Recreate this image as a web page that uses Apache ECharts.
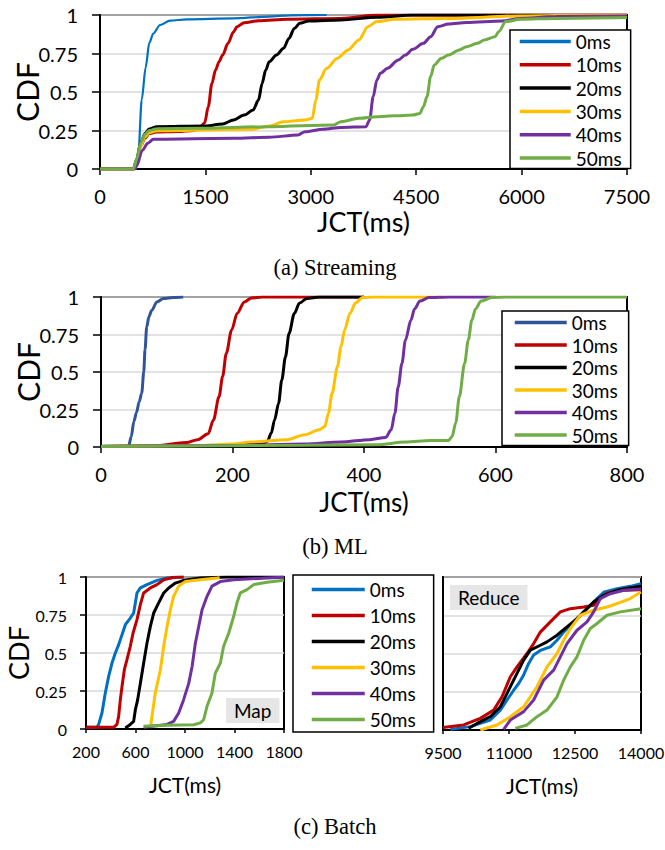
<!DOCTYPE html>
<html><head><meta charset="utf-8">
<script src="https://cdn.jsdelivr.net/npm/echarts@6/dist/echarts.min.js"></script>
<style>html,body{margin:0;padding:0;background:#fff}#c{width:665px;height:850px}</style>
</head><body><div id="c"></div>
<script>
const seriesNames = ['0ms','10ms','20ms','30ms','40ms','50ms'];
const colorsMain = ['#0070C0','#C00000','#000000','#FFC000','#7030A0','#70AD47'];
const colorsML = ['#2F5597','#C00000','#000000','#FFC000','#7030A0','#70AD47'];

const yTicks = [0,0.25,0.5,0.75,1];
const streamTicks = [0,1500,3000,4500,6000,7500];
const mlTicks = [0,200,400,600,800];
const mapTicks = [200,600,1000,1400,1800];
const reduceTicks = [9500,11000,12500,14000];

// (a) Streaming
const stream0 = [[0,0],[490,0],[546,0.10],[594,0.45],[650,0.66],[702,0.82],[759,0.88],[854,0.935],[997,0.963],[1234,0.972],[1900,0.978],[2400,0.99],[2700,0.998],[3225,1]];
const stream10 = [[0,0],[480,0],[520,0.05],[580,0.15],[640,0.2],[700,0.23],[800,0.24],[1100,0.243],[1340,0.25],[1440,0.28],[1490,0.3],[1541,0.405],[1593,0.556],[1644,0.643],[1695,0.697],[1745,0.74],[1822,0.816],[1899,0.89],[1950,0.924],[2052,0.95],[2256,0.963],[2664,0.972],[3429,0.978],[3940,1],[7500,1]];
const stream20 = [[0,0],[475,0],[520,0.06],[580,0.17],[640,0.23],[700,0.26],[807,0.275],[1500,0.279],[1745,0.292],[1899,0.318],[2052,0.35],[2179,0.383],[2256,0.448],[2307,0.556],[2358,0.643],[2409,0.697],[2511,0.74],[2613,0.784],[2689,0.848],[2766,0.913],[2843,0.946],[2970,0.961],[3429,0.968],[3940,0.985],[4450,1],[7500,1]];
const stream30 = [[0,0],[475,0],[520,0.05],[580,0.15],[640,0.21],[700,0.235],[807,0.249],[2154,0.258],[2409,0.279],[2613,0.307],[2919,0.318],[3021,0.329],[3072,0.448],[3123,0.578],[3225,0.654],[3378,0.719],[3531,0.773],[3684,0.838],[3812,0.924],[3940,0.957],[4195,0.972],[4960,0.978],[5980,0.994],[7000,1],[7500,1]];
const stream40 = [[0,0],[500,0],[522,0.02],[600,0.12],[680,0.167],[759,0.193],[1899,0.199],[2409,0.206],[2817,0.221],[2919,0.242],[3174,0.258],[3429,0.27],[3786,0.275],[3837,0.318],[3888,0.47],[3940,0.578],[3990,0.621],[4092,0.654],[4245,0.708],[4347,0.74],[4450,0.777],[4603,0.816],[4705,0.859],[4807,0.924],[4960,0.942],[5215,0.952],[5725,0.961],[5980,0.978],[6490,0.99],[7500,0.994]];
const stream50 = [[0,0],[475,0],[520,0.06],[580,0.17],[640,0.225],[700,0.25],[807,0.262],[1388,0.264],[2409,0.275],[3327,0.286],[3429,0.307],[3684,0.329],[3940,0.34],[4195,0.346],[4450,0.35],[4552,0.361],[4603,0.405],[4654,0.47],[4705,0.6],[4756,0.675],[4858,0.719],[4960,0.74],[5113,0.773],[5215,0.794],[5368,0.816],[5470,0.838],[5623,0.859],[5674,0.892],[5776,0.957],[5980,0.972],[6490,0.978],[7500,0.983]];

// (b) ML
const ml0 = [[0,0.005],[42,0.005],[46,0.07],[50,0.17],[54,0.23],[58,0.3],[62,0.36],[65,0.5],[67,0.65],[69.5,0.8],[73,0.87],[77,0.91],[85,0.967],[95,0.99],[110,0.997],[125,1]];
const ml10 = [[0,0.003],[80,0.006],[130,0.03],[147,0.049],[163,0.088],[171,0.18],[179.6,0.336],[185,0.47],[190.5,0.624],[198.7,0.78],[207,0.89],[218,0.967],[228.7,0.993],[245,1],[400,1]];
const ml20 = [[0,0.003],[150,0.008],[245,0.02],[253,0.038],[259,0.093],[264,0.18],[270,0.29],[275,0.447],[280.5,0.6],[286,0.757],[294,0.89],[302,0.96],[313,0.99],[332,1],[400,1]];
const ml30 = [[0,0.003],[150,0.01],[201,0.02],[229,0.033],[283,0.049],[310,0.082],[332,0.115],[340.5,0.137],[346,0.226],[351.4,0.358],[359.6,0.535],[365,0.668],[370.5,0.78],[378.6,0.89],[387,0.96],[398,0.996],[414,1],[520,1]];
const ml40 = [[0,0.003],[200,0.01],[310,0.02],[365,0.033],[409,0.049],[433,0.064],[441.4,0.115],[447,0.226],[452,0.4],[457.7,0.557],[463,0.712],[471.3,0.845],[476.8,0.92],[485,0.973],[498.6,0.996],[528.6,1],[600,1]];
const ml50 = [[0,0.004],[310,0.011],[419.5,0.015],[463,0.033],[501.3,0.044],[528.6,0.044],[534,0.07],[539.5,0.16],[545,0.336],[553,0.557],[558.6,0.712],[564,0.845],[569.5,0.92],[578,0.973],[594,0.996],[616,1],[800,1]];

// (c) Batch - Map
const map0 = [[200,0.011],[289,0.011],[302,0.03],[329,0.105],[356,0.237],[383,0.346],[410,0.434],[437,0.5],[464,0.555],[491,0.62],[518,0.686],[558,0.73],[585,0.763],[599,0.83],[612,0.895],[639,0.928],[693,0.95],[774,0.978],[855,0.993],[989,1]];
const map10 = [[200,0.011],[424,0.011],[450,0.03],[464,0.083],[477,0.19],[491,0.28],[510,0.39],[531,0.456],[558,0.544],[580,0.63],[612,0.72],[639,0.818],[666,0.895],[720,0.928],[774,0.95],[828,0.982],[908,0.998],[989,1]];
const map20 = [[518,0.007],[558,0.03],[585,0.05],[599,0.127],[617,0.19],[639,0.3],[666,0.434],[693,0.566],[720,0.675],[747,0.763],[787,0.83],[828,0.895],[868,0.928],[922,0.96],[989,0.978],[1124,0.993],[1339,1],[1800,1]];
const map30 = [[720,0.007],[733,0.083],[760,0.237],[801,0.39],[828,0.544],[855,0.675],[882,0.785],[908,0.873],[949,0.94],[1003,0.97],[1124,0.982],[1259,0.993],[1280,0.995]];
const map40 = [[666,0.011],[855,0.03],[908,0.05],[949,0.105],[989,0.193],[1030,0.3],[1057,0.41],[1084,0.566],[1111,0.675],[1138,0.785],[1178,0.873],[1218,0.94],[1286,0.97],[1393,0.982],[1663,0.993],[1800,0.998]];
const map50 = [[666,0.018],[855,0.024],[1070,0.028],[1124,0.04],[1151,0.061],[1178,0.149],[1218,0.237],[1245,0.368],[1286,0.434],[1312,0.544],[1353,0.63],[1393,0.74],[1420,0.83],[1447,0.895],[1501,0.917],[1555,0.95],[1663,0.965],[1800,0.978]];

// (c) Batch - Reduce
const reduce0 = [[9667,0.004],[10121,0.022],[10576,0.065],[10803,0.13],[10955,0.196],[11106,0.26],[11220,0.304],[11333,0.36],[11447,0.435],[11561,0.49],[11712,0.52],[11939,0.543],[12091,0.587],[12242,0.64],[12394,0.685],[12545,0.728],[12697,0.772],[12924,0.837],[13152,0.9],[13455,0.924],[13758,0.939],[14000,0.957]];
const reduce10 = [[9500,0.017],[9970,0.033],[10348,0.076],[10652,0.13],[10841,0.217],[11030,0.348],[11182,0.413],[11409,0.5],[11561,0.565],[11712,0.64],[11939,0.707],[12167,0.772],[12394,0.793],[12697,0.804],[12924,0.815],[13076,0.859],[13227,0.896],[13606,0.913],[14000,0.917]];
const reduce20 = [[10083,0.011],[10273,0.043],[10576,0.087],[10803,0.152],[10955,0.239],[11182,0.37],[11333,0.457],[11485,0.522],[11712,0.554],[11864,0.576],[12091,0.62],[12318,0.674],[12545,0.728],[12773,0.793],[12924,0.837],[13152,0.88],[13455,0.913],[13758,0.93],[14000,0.939]];
const reduce30 = [[10348,0],[10727,0.033],[11030,0.087],[11333,0.152],[11485,0.217],[11636,0.283],[11864,0.413],[12091,0.5],[12242,0.587],[12394,0.663],[12621,0.75],[12924,0.783],[13227,0.804],[13455,0.826],[13758,0.859],[14000,0.902]];
const reduce40 = [[10879,0.004],[11030,0.065],[11333,0.12],[11561,0.196],[11788,0.326],[12015,0.391],[12167,0.478],[12318,0.565],[12545,0.652],[12773,0.707],[12924,0.772],[13076,0.859],[13303,0.891],[13606,0.913],[14000,0.922]];
const reduce50 = [[11144,0.011],[11409,0.033],[11636,0.087],[11864,0.13],[12091,0.217],[12242,0.326],[12394,0.413],[12545,0.478],[12697,0.587],[12848,0.663],[13000,0.696],[13227,0.75],[13530,0.772],[14000,0.793]];

const panelData = [
  [stream0, stream10, stream20, stream30, stream40, stream50],
  [ml0, ml10, ml20, ml30, ml40, ml50],
  [map0, map10, map20, map30, map40, map50],
  [reduce0, reduce10, reduce20, reduce30, reduce40, reduce50]
];
const panelColors = [colorsMain, colorsML, colorsMain, colorsMain];
const panelWidths = [[2.2,3,3,3,3,3],[3,3,3,3,3,3],[3,3,3,3,3,3],[3,3,3,3,3,3]];
const panelSmooth = [0.3, 0.3, false, false];

const FONT = 'Lato';
const chart = echarts.init(document.getElementById('c'), null, {renderer: 'svg'});
const plain = v => String(v);

function xAxisCfg(gi, ticks, labelSize, nameSize, nameGap, labelMargin, tickLen, custom) {
  const a = {
    type: 'value', gridIndex: gi, min: ticks[0], max: ticks[ticks.length - 1],
    name: 'JCT(ms)', nameLocation: 'middle', nameGap: nameGap, nameMoveOverlap: false,
    nameTextStyle: {fontFamily: FONT, fontSize: nameSize, color: '#000'},
    axisLine: {show: true, onZero: false, lineStyle: {color: '#000', width: 2}},
    axisTick: {show: true, inside: false, length: tickLen, lineStyle: {color: '#000', width: 1.5}},
    axisLabel: {fontFamily: FONT, fontSize: labelSize, color: '#000', margin: labelMargin, formatter: plain, hideOverlap: false},
    splitLine: {show: false}
  };
  if (custom) {
    a.axisLabel.customValues = ticks;
    a.axisTick.customValues = ticks;
  } else {
    a.interval = ticks[1] - ticks[0];
  }
  return a;
}
function yAxisCfg(gi, showLabels, labelSize, nameSize, nameGap, labelMargin, tickLen) {
  return {
    type: 'value', gridIndex: gi, min: yTicks[0], max: yTicks[yTicks.length - 1], interval: yTicks[1] - yTicks[0],
    name: showLabels ? 'CDF' : '', nameLocation: 'middle', nameGap: nameGap, nameRotate: 90, nameMoveOverlap: false,
    nameTextStyle: {fontFamily: FONT, fontSize: nameSize, color: '#000'},
    axisLine: {show: true, onZero: false, lineStyle: {color: '#000', width: 2}},
    axisTick: {show: showLabels, inside: false, length: tickLen, lineStyle: {color: '#000', width: 1.5}},
    axisLabel: {show: showLabels, fontFamily: FONT, fontSize: labelSize, color: '#000', margin: labelMargin, formatter: plain},
    splitLine: {show: true, lineStyle: {color: '#d9d9d9', width: 1.5}}
  };
}
function legendCfg(colors, left, top, padding, gap, itemW, fontSize) {
  return {
    orient: 'vertical', left: left, top: top, padding: padding, itemGap: gap,
    itemWidth: itemW, itemHeight: 14, backgroundColor: '#fff', borderColor: '#000', borderWidth: 1.5,
    textStyle: {fontFamily: FONT, fontSize: fontSize, color: '#000'},
    lineStyle: {width: 3.5},
    selectedMode: false,
    data: seriesNames.map((n, i) => ({name: n, itemStyle: {color: colors[i], opacity: 0}, lineStyle: {color: colors[i], width: 3.5}}))
  };
}

const grids = [
  {left: 100, top: 15, width: 527, height: 154},
  {left: 101, top: 297, width: 526, height: 150},
  {left: 86, top: 577, width: 198, height: 152},
  {left: 443, top: 577, width: 198, height: 153}
].map(g => Object.assign({show: true, borderColor: '#000', borderWidth: 2, backgroundColor: 'transparent', outerBoundsMode: 'none', containLabel: false}, g));

const xAxes = [
  xAxisCfg(0, streamTicks, 20, 27, 39, 17, 6, false),
  xAxisCfg(1, mlTicks, 20, 26, 42, 17, 6, false),
  xAxisCfg(2, mapTicks, 16, 21, 45, 14, 4, false),
  xAxisCfg(3, reduceTicks, 16, 21, 45, 14, 4, true)
];
const yAxes = [
  yAxisCfg(0, true, 20, 30, 58, 22, 8),
  yAxisCfg(1, true, 20, 30, 58, 22, 8),
  yAxisCfg(2, true, 16, 27, 54, 19, 6),
  yAxisCfg(3, false, 16, 27, 54, 19, 6)
];

const series = [];
panelData.forEach((arrs, p) => {
  arrs.forEach((d, i) => {
    series.push({
      type: 'line', name: seriesNames[i], xAxisIndex: p, yAxisIndex: p, data: d,
      symbol: 'none', showSymbol: false, smooth: panelSmooth[p], smoothMonotone: 'x',
      lineStyle: {color: panelColors[p][i], width: panelWidths[p][i]},
      itemStyle: {color: panelColors[p][i], opacity: 0}, z: 2 + i * 0.01, animation: false
    });
  });
});

const captionFont = '22.5px "Liberation Serif"';
chart.setOption({
  animation: false,
  backgroundColor: '#fff',
  textStyle: {fontFamily: FONT},
  grid: grids,
  xAxis: xAxes,
  yAxis: yAxes,
  legend: [
    legendCfg(colorsMain, 510, 30, [2, 9, 1, 8], 4.3, 51, 19),
    legendCfg(colorsML, 502, 311, [2, 11, 1, 11], 3.5, 52, 19),
    legendCfg(colorsMain, 293, 575, [5, 18, 3, 17], 7, 53, 19)
  ],
  graphic: [
    {type: 'text', left: 226, top: 698, z: 10, style: {text: 'Map', font: '19px Lato', fill: '#000', backgroundColor: '#e6e6e6', padding: [3, 8, 3, 8], lineHeight: 19}},
    {type: 'text', left: 450, top: 585, z: 10, style: {text: 'Reduce', font: '19px Lato', fill: '#000', backgroundColor: '#e6e6e6', padding: [3, 8, 3, 8], lineHeight: 19}},
    {type: 'text', x: 335, y: 267, style: {text: '(a) Streaming', font: captionFont, fill: '#000', align: 'center', verticalAlign: 'middle'}},
    {type: 'text', x: 335, y: 546, style: {text: '(b) ML', font: captionFont, fill: '#000', align: 'center', verticalAlign: 'middle'}},
    {type: 'text', x: 335, y: 826, style: {text: '(c) Batch', font: captionFont, fill: '#000', align: 'center', verticalAlign: 'middle'}}
  ],
  series: series
});
</script></body></html>
